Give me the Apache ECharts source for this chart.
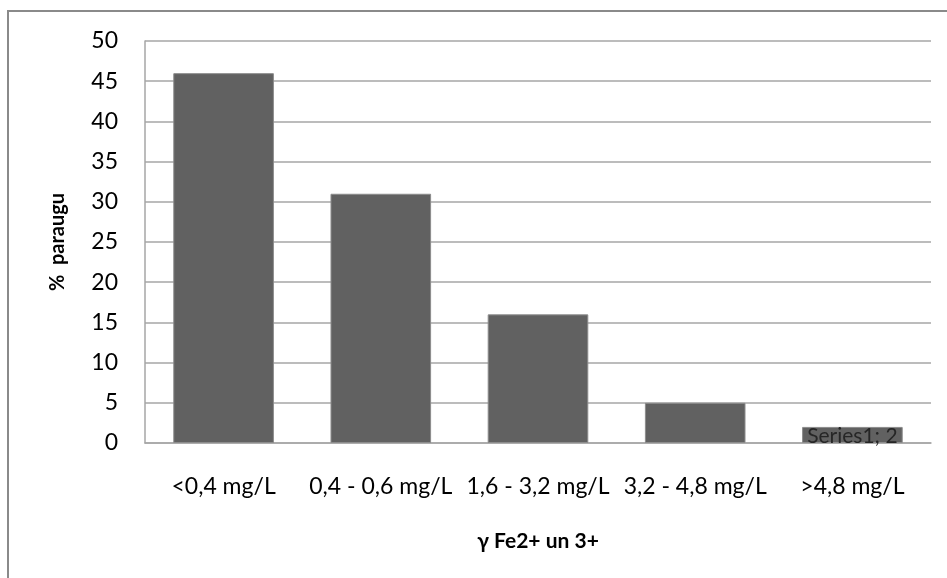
<!DOCTYPE html>
<html>
<head>
<meta charset="utf-8">
<script src="https://cdn.jsdelivr.net/npm/echarts@6/dist/echarts.min.js"></script>
<style>
  html, body { margin: 0; padding: 0; background: #fff; }
  #chart { width: 947px; height: 578px; }
</style>
</head>
<body>
<div id="chart"></div>
<script>
var categories = ['<0,4 mg/L', '0,4 - 0,6 mg/L', '1,6 - 3,2 mg/L', '3,2 - 4,8 mg/L', '>4,8 mg/L'];
var values = [46, 31, 16, 5, 2];
var labelledIndex = 4; // only this bar carries a data label
var seriesName = 'Series1';

var myChart = echarts.init(document.getElementById('chart'));

var barData = values.map(function (v, i) {
    if (i === labelledIndex) {
        return { value: v, label: { show: true } };
    }
    return v;
});

var option = {
    animation: false,
    graphic: [{
        type: 'rect',
        shape: { x: 8, y: 11, width: 1000, height: 1000 },
        style: { fill: 'none', stroke: '#8a8a8a', lineWidth: 2 },
        silent: true
    }],
    grid: { left: 145, right: 16, top: 41, bottom: 135 },
    xAxis: {
        type: 'category',
        data: categories,
        name: 'γ Fe2+ un 3+',
        nameLocation: 'middle',
        nameGap: 88,
        nameTextStyle: { fontFamily: 'Lato', fontWeight: 'bold', fontSize: 21, color: '#000' },
        axisLine: { lineStyle: { color: '#a6a6a6', width: 1.5 } },
        axisTick: { show: false },
        axisLabel: { fontFamily: 'Lato', fontSize: 23, color: '#000', margin: 32, interval: 0 }
    },
    yAxis: {
        type: 'value',
        min: 0,
        max: 50,
        interval: 5,
        name: '%  paraugu',
        nameLocation: 'middle',
        nameGap: 77,
        nameTextStyle: { fontFamily: 'Lato', fontWeight: 'bold', fontSize: 20, color: '#000' },
        axisLine: { show: true, lineStyle: { color: '#a6a6a6', width: 1.5 } },
        axisTick: { show: false },
        axisLabel: { fontFamily: 'Lato', fontSize: 23, color: '#000', margin: 27 },
        splitLine: { lineStyle: { color: '#a6a6a6', width: 1.5 } }
    },
    series: [{
        name: seriesName,
        type: 'bar',
        data: barData,
        barCategoryGap: '36%',
        itemStyle: { color: '#616161', borderColor: '#8c8c8c', borderWidth: 1 },
        label: {
            show: false,
            position: 'inside',
            offset: [0, 1],
            fontFamily: 'Lato',
            fontSize: 21,
            color: '#262626',
            formatter: function (p) { return p.seriesName + '; ' + p.value; }
        }
    }]
};

myChart.setOption(option);
</script>
</body>
</html>
